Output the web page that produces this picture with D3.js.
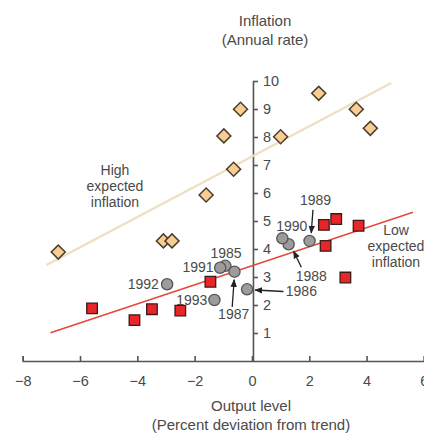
<!DOCTYPE html>
<html><head><meta charset="utf-8">
<script src="https://cdn.jsdelivr.net/npm/d3@7"></script>
<style>
body{margin:0;background:#fff}
svg{display:block}
text{font-family:"Liberation Sans",Arial,Helvetica,sans-serif;fill:#4a4a4a}
</style>
</head><body>
<svg id="chart" width="424" height="435"></svg>
<script>
// ---- data ----
const highX = [-6.76, -3.09, -2.79, -1.60, -0.98, -0.64, -0.40, 1.00, 2.33, 3.64, 4.13];
const highY = [3.89, 4.29, 4.29, 5.93, 8.04, 6.85, 8.99, 8.01, 9.56, 8.99, 8.31];

const lowX = [-5.58, -4.10, -3.49, -2.50, -1.45, 2.51, 2.57, 2.94, 3.26, 3.72];
const lowY = [1.88, 1.46, 1.85, 1.80, 2.83, 4.86, 4.11, 5.07, 2.98, 4.83];

const years = [1985, 1986, 1987, 1988, 1989, 1990, 1991, 1992, 1993];
const yearX = [-0.93, -0.17, -0.61, 1.28, 2.01, 1.06, -1.11, -2.96, -1.31];
const yearY = [3.40, 2.56, 3.19, 4.17, 4.29, 4.38, 3.33, 2.74, 2.18];

const highTrendX = [-7.17, 4.86];
const highTrendY = [3.43, 9.93];
const lowTrendX = [-7.03, 5.62];
const lowTrendY = [1.01, 5.31];

const xTicks = [-8, -6, -4, -2, 0, 2, 4, 6];
const yTicks = [1, 2, 3, 4, 5, 6, 7, 8, 9, 10];

// ---- layout (label offsets in px relative to each year's circle) ----
const yearLayout = {
  1985: {dx: 0.7, dy: -7.4, anchor: "middle"},
  1986: {dx: 54.3, dy: 6.5, anchor: "middle", arrow: [36.3, 2.2, 8.0, 0.7]},
  1987: {dx: -0.8, dy: 47.3, anchor: "middle", arrow: [-2.3, 35.3, -0.3, 8.0]},
  1988: {dx: 22.7, dy: 36.5, anchor: "middle", arrow: [12.7, 23.0, 5.0, 7.0]},
  1989: {dx: 6.0, dy: -36, anchor: "middle", arrow: [3.4, -31, 1.7, -8.0]},
  1990: {dx: 9.5, dy: -7.8, anchor: "middle"},
  1991: {dx: -6.5, dy: 4.2, anchor: "end"},
  1992: {dx: -8.3, dy: 5.0, anchor: "end"},
  1993: {dx: -7.0, dy: 5.0, anchor: "end"}
};

const svg = d3.select("#chart");
const x = d3.scaleLinear().domain([-8, 6]).range([22.7, 423.9]);
const y = d3.scaleLinear().domain([0, 10]).range([361, 81]);

// ---- axes ----
const fmt = d => d < 0 ? "\u2212" + Math.abs(d) : String(d);
const gx = svg.append("g").attr("transform", `translate(0,${y(0)})`)
  .call(d3.axisBottom(x).tickValues(xTicks).tickSizeInner(-5).tickSizeOuter(-5).tickPadding(15).tickFormat(fmt));
const gy = svg.append("g").attr("transform", `translate(${x(0) + 1},0)`)
  .call(d3.axisRight(y).tickValues(yTicks).tickSizeInner(5).tickSizeOuter(0).tickPadding(5));
[gx, gy].forEach(g => {
  g.select(".domain").attr("stroke", "#555").attr("stroke-width", 1.6);
  g.selectAll(".tick line").attr("stroke", "#555").attr("stroke-width", 1.6);
  g.selectAll(".tick text").attr("fill", "#4a4a4a").style("font-size", "14.5px")
    .style("font-family", '"Liberation Sans",Arial,sans-serif');
});

// ---- trend lines ----
const line = d3.line().x(d => x(d[0])).y(d => y(d[1]));
svg.append("path").datum(d3.zip(highTrendX, highTrendY)).attr("d", line)
  .attr("fill", "none").attr("stroke", "#eedfc2").attr("stroke-width", 2.2);
svg.append("path").datum(d3.zip(lowTrendX, lowTrendY)).attr("d", line)
  .attr("fill", "none").attr("stroke", "#e4483d").attr("stroke-width", 1.5);

// ---- markers ----
const diamond = d3.symbol(d3.symbolSquare, 98);
svg.append("g").selectAll("path").data(d3.zip(highX, highY)).join("path")
  .attr("d", diamond)
  .attr("transform", d => `translate(${x(d[0])},${y(d[1])}) rotate(45)`)
  .attr("fill", "#f6cd92").attr("stroke", "#4b3d2c").attr("stroke-width", 1.5);

const square = d3.symbol(d3.symbolSquare, 112);
svg.append("g").selectAll("path").data(d3.zip(lowX, lowY)).join("path")
  .attr("d", square)
  .attr("transform", d => `translate(${x(d[0])},${y(d[1])})`)
  .attr("fill", "#e8262a").attr("stroke", "#3d1a18").attr("stroke-width", 1.3);

const yearData = years.map((yr, i) => ({yr, cx: x(yearX[i]), cy: y(yearY[i]), L: yearLayout[yr]}));
svg.append("g").selectAll("circle").data(yearData).join("circle")
  .attr("cx", d => d.cx).attr("cy", d => d.cy).attr("r", 5.6)
  .attr("fill", "#9c9c9c").attr("stroke", "#555").attr("stroke-width", 1.3);

// ---- arrows ----
svg.append("defs").append("marker").attr("id", "ah")
  .attr("viewBox", "0 0 10 10").attr("refX", 9).attr("refY", 5)
  .attr("markerWidth", 8).attr("markerHeight", 8).attr("markerUnits", "userSpaceOnUse")
  .attr("orient", "auto")
  .append("path").attr("d", "M0,1 L10,5 L0,9 Z").attr("fill", "#222");
svg.append("g").selectAll("line").data(yearData.filter(d => d.L.arrow)).join("line")
  .attr("x1", d => d.cx + d.L.arrow[0]).attr("y1", d => d.cy + d.L.arrow[1])
  .attr("x2", d => d.cx + d.L.arrow[2]).attr("y2", d => d.cy + d.L.arrow[3])
  .attr("stroke", "#222").attr("stroke-width", 1.3).attr("marker-end", "url(#ah)");

// ---- year labels ----
svg.append("g").selectAll("text").data(yearData).join("text")
  .attr("x", d => d.cx + d.L.dx).attr("y", d => d.cy + d.L.dy)
  .attr("text-anchor", d => d.L.anchor).style("font-size", "14px")
  .text(d => d.yr);

// ---- annotations / titles ----
function block(lines, cx, y0, lh, size) {
  const t = svg.append("text").attr("text-anchor", "middle").style("font-size", size + "px");
  lines.forEach((s, i) => t.append("tspan").attr("x", cx).attr("y", y0 + i * lh).text(s));
}
block(["High", "expected", "inflation"], 115, 175, 16, 14);
block(["Low", "expected", "inflation"], 396, 235, 16, 14);
svg.append("text").attr("x", 265).attr("y", 26).attr("text-anchor", "middle").style("font-size", "15px").text("Inflation");
svg.append("text").attr("x", 265).attr("y", 45).attr("text-anchor", "middle").style("font-size", "15px").text("(Annual rate)");
svg.append("text").attr("x", 251).attr("y", 411).attr("text-anchor", "middle").style("font-size", "15px").text("Output level");
svg.append("text").attr("x", 251).attr("y", 430).attr("text-anchor", "middle").style("font-size", "15px").text("(Percent deviation from trend)");
</script>
</body></html>
